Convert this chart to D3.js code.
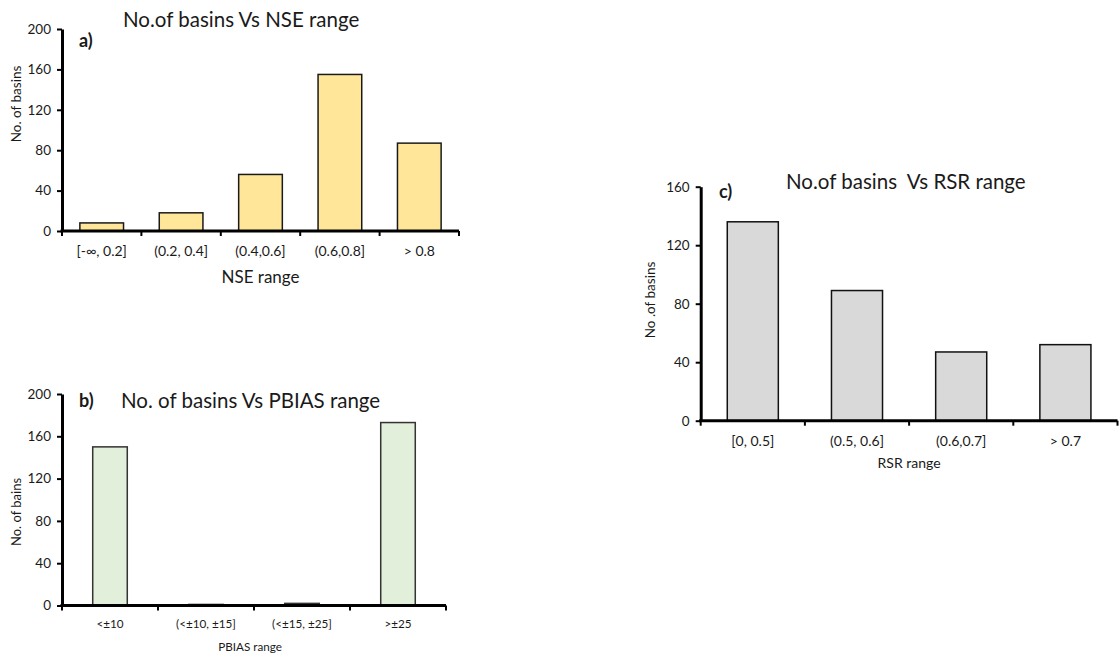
<!DOCTYPE html>
<html>
<head>
<meta charset="utf-8">
<script src="https://cdn.jsdelivr.net/npm/d3@7"></script>
<style>
  html, body { margin: 0; padding: 0; background: #ffffff; }
  svg { display: block; }
  text { font-family: Lato, "Open Sans", sans-serif; fill: #1a1a1a; white-space: pre; }
</style>
</head>
<body>
<svg id="chart" width="1119" height="657"></svg>
<script>
// NSE classes
const nseRanges = ["[-\u221E, 0.2]", "(0.2, 0.4]", "(0.4,0.6]", "(0.6,0.8]", "> 0.8"];
const nseCounts = [8, 18, 56, 155, 87];

// PBIAS classes
const pbiasRanges = ["<\u00B110", "(<\u00B110, \u00B115]", "(<\u00B115, \u00B125]", ">\u00B125"];
const pbiasCounts = [150, 1, 2, 173];

// RSR classes
const rsrRanges = ["[0, 0.5]", "(0.5, 0.6]", "(0.6,0.7]", "> 0.7"];
const rsrCounts = [136, 89, 47, 52];

const yTicksA = [0, 40, 80, 120, 160, 200];
const yTicksB = [0, 40, 80, 120, 160, 200];
const yTicksC = [0, 40, 80, 120, 160];

const svg = d3.select("#chart");

function drawPanel(p) {
  const g = svg.append("g");
  const x = d3.scaleBand().domain(p.categories).range([p.x0, p.x1])
    .paddingInner(p.pad).paddingOuter(p.pad / 2);
  const y = d3.scaleLinear().domain([0, p.yMax]).range([p.y0, p.y1]);

  // bars
  g.selectAll("rect.bar").data(p.values).join("rect")
    .attr("class", "bar")
    .attr("x", (d, i) => x(p.categories[i]))
    .attr("width", x.bandwidth())
    .attr("y", d => y(d))
    .attr("height", d => p.y0 - y(d))
    .attr("fill", p.fill)
    .attr("stroke", p.stroke)
    .attr("stroke-width", 1.5);

  // y axis
  const ya = g.append("g").attr("transform", `translate(${p.x0},0)`)
    .call(d3.axisLeft(y).tickValues(p.yTicks).tickSize(5).tickSizeOuter(0).tickPadding(6));
  ya.select(".domain").attr("stroke", "#000").attr("stroke-width", 3);
  ya.selectAll(".tick line").attr("stroke", "#000").attr("stroke-width", 2);
  ya.selectAll(".tick text").style("font-family", "Lato, sans-serif")
    .style("font-size", p.tickFont + "px").attr("fill", "#1a1a1a");

  // x axis: baseline plus category boundary ticks
  const xa = g.append("g").attr("transform", `translate(0,${p.y0})`)
    .call(d3.axisBottom(x).tickSize(0).tickPadding(p.xLabelPad));
  xa.select(".domain").attr("stroke", "#000").attr("stroke-width", 3)
    .attr("d", `M${p.x0 - 1.5},0H${p.x1}`);
  xa.selectAll(".tick text").style("font-family", "Lato, sans-serif")
    .style("font-size", p.xTickFont + "px").attr("fill", "#1a1a1a");
  const bounds = p.categories.map(c => x(c) - x.step() * x.paddingInner() / 2);
  bounds.push(p.x1);
  g.selectAll("line.bnd").data(bounds).join("line")
    .attr("class", "bnd")
    .attr("x1", d => d).attr("x2", d => d)
    .attr("y1", p.y0).attr("y2", p.y0 + 5)
    .attr("stroke", "#000").attr("stroke-width", 2);

  // titles and labels
  g.append("text").attr("x", p.tagX).attr("y", p.tagY)
    .style("font-size", "18px").style("font-weight", "bold").text(p.tag);
  g.append("text").attr("x", p.titleX).attr("y", p.titleY)
    .style("font-size", p.titleFont + "px").text(p.title);
  g.append("text").attr("x", (p.x0 + p.x1) / 2 + p.xTitleDx).attr("y", p.xTitleY)
    .attr("text-anchor", "middle").style("font-size", p.xTitleFont + "px").text(p.xTitle);
  g.append("text")
    .attr("transform", `translate(${p.yTitleX},${p.yTitleY}) rotate(-90)`)
    .attr("text-anchor", "middle").style("font-size", p.yTitleFont + "px").text(p.yTitle);
}

drawPanel({
  categories: nseRanges, values: nseCounts, yTicks: yTicksA, yMax: 200,
  x0: 62, x1: 459, y0: 231, y1: 29, pad: 0.45,
  fill: "#ffe699", stroke: "#1a1a1a",
  tickFont: 13.5, xTickFont: 14, xLabelPad: 15,
  tag: "a)", tagX: 79, tagY: 47,
  title: "No.of basins Vs NSE range", titleX: 123, titleY: 27, titleFont: 20.5,
  xTitle: "NSE range", xTitleY: 283, xTitleFont: 17, xTitleDx: 0,
  yTitle: "No. of basins", yTitleX: 21, yTitleY: 104, yTitleFont: 13.5
});

drawPanel({
  categories: pbiasRanges, values: pbiasCounts, yTicks: yTicksB, yMax: 200,
  x0: 62, x1: 446, y0: 605.5, y1: 394, pad: 0.64,
  fill: "#e2efda", stroke: "#333333",
  tickFont: 13.5, xTickFont: 11.7, xLabelPad: 14,
  tag: "b)", tagX: 79, tagY: 407,
  title: "No. of basins Vs PBIAS range", titleX: 121, titleY: 408, titleFont: 20.5,
  xTitle: "PBIAS range", xTitleY: 651, xTitleFont: 11.7, xTitleDx: -4,
  yTitle: "No. of bains", yTitleX: 21, yTitleY: 512, yTitleFont: 13
});

drawPanel({
  categories: rsrRanges, values: rsrCounts, yTicks: yTicksC, yMax: 160,
  x0: 700.7, x1: 1117.5, y0: 420.7, y1: 186.7, pad: 0.51,
  fill: "#d9d9d9", stroke: "#111111",
  tickFont: 13.5, xTickFont: 14, xLabelPad: 15,
  tag: "c)", tagX: 719, tagY: 198,
  title: "No.of basins  Vs RSR range", titleX: 786, titleY: 189, titleFont: 20.5,
  xTitle: "RSR range", xTitleY: 468, xTitleFont: 14, xTitleDx: 0,
  yTitle: "No .of basins", yTitleX: 655, yTitleY: 300, yTitleFont: 13.5
});
</script>
</body>
</html>
